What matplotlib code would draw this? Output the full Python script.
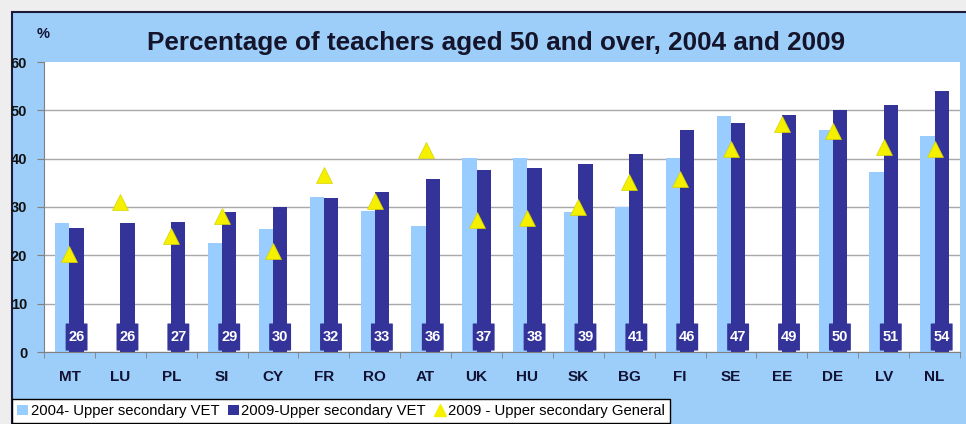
import matplotlib.pyplot as plt
import numpy as np
from matplotlib.patches import Rectangle, FancyBboxPatch
from matplotlib.lines import Line2D

countries = ['MT', 'LU', 'PL', 'SI', 'CY', 'FR', 'RO', 'AT', 'UK',
             'HU', 'SK', 'BG', 'FI', 'SE', 'EE', 'DE', 'LV', 'NL']
vet_2004 = [26.6, np.nan, np.nan, 22.6, 25.5, 32.0, 29.2, 26.1, 40.2,
            40.2, 29.0, 30.0, 40.2, 48.8, np.nan, 46.0, 37.2, 44.6]
vet_2009 = [25.6, 26.6, 26.8, 29.0, 30.1, 31.8, 33.2, 35.8, 37.7,
            38.1, 38.9, 41.0, 46.0, 47.3, 49.0, 50.0, 51.1, 54.0]
general_2009 = [20.3, 31.0, 24.0, 28.1, 21.0, 36.6, 31.3, 41.7, 27.4,
                27.8, 29.9, 35.1, 35.8, 42.0, 47.1, 45.7, 42.4, 42.0]
labels_2009 = [26, 26, 27, 29, 30, 32, 33, 36, 37, 38, 39, 41, 46, 47, 49, 50, 51, 54]

light = '#99ccff'
navy = '#333399'
yellow = '#f4f000'
W, H = 966, 424

plt.rcParams['font.family'] = ['Liberation Sans', 'DejaVu Sans']

fig = plt.figure(figsize=(W / 100, H / 100), dpi=100, facecolor='#eeeeee')

# light blue chart panel, kept behind the axes
panel = Rectangle((12 / W, -0.1), 1.0, 1.1 - 12 / H, transform=fig.transFigure,
                  facecolor='#9dcdf9', edgecolor='#1c1c3a', lw=1.5, zorder=-10)
fig.patches.append(panel)

ax = fig.add_axes([44 / W, 1 - 352 / H, (960 - 44) / W, (352 - 62) / H])
ax.set_facecolor('white')

x = np.arange(len(countries))
w = 0.28
ax.bar(x - w / 2, vet_2004, w, color=light, zorder=2)
ax.bar(x + w / 2, vet_2009, w, color=navy, zorder=2)
ax.plot(x, general_2009, linestyle='none', marker='^', ms=11.5, color=yellow,
        markeredgecolor='#d8d400', markeredgewidth=0.5, zorder=4)

# value boxes at the bottom of the 2009 bars
for xi, lab in zip(x, labels_2009):
    box = FancyBboxPatch((xi + w / 2 - 0.215, 0.3), 0.43, 5.6,
                         boxstyle='round,pad=0,rounding_size=0.04',
                         facecolor=navy, edgecolor='none', zorder=3)
    ax.add_patch(box)
    ax.text(xi + w / 2, 3.1, str(lab), ha='center', va='center', color='white',
            fontsize=10.5, fontweight='bold', zorder=5)

ax.set_xlim(-0.5, len(countries) - 0.5)
ax.set_ylim(0, 60)
ax.set_yticks(range(0, 61, 10))
ax.yaxis.grid(True, color='#a8a8a8', lw=1)
ax.get_ygridlines()[-1].set_visible(False)
ax.set_axisbelow(True)

ax.set_xticks(x)
ax.set_xticklabels(countries, fontweight='bold', fontsize=11, color='#111133')
ax.set_xticks(np.arange(-0.5, len(countries), 1), minor=True)
ax.tick_params(axis='x', which='major', length=0, pad=13)
ax.tick_params(axis='x', which='minor', length=4, color='#808080')
ax.tick_params(axis='y', length=5, color='#808080', pad=7, labelsize=10.5)
for t in ax.get_yticklabels():
    t.set_fontweight('bold')
    t.set_color('#111111')

for s in ['top', 'right']:
    ax.spines[s].set_visible(False)
ax.spines['left'].set_color('#808080')
ax.spines['bottom'].set_color('#808080')

fig.text(43 / W, 1 - 34 / H, '%', ha='center', va='center', fontsize=10.5,
         fontweight='bold', color='#111133')
fig.text(496 / W, 1 - 43 / H, 'Percentage of teachers aged 50 and over, 2004 and 2009',
         ha='center', va='center', fontsize=18.8, fontweight='bold', color='#14142a')

handles = [
    Rectangle((0, 0), 1, 1, facecolor=light, edgecolor='none'),
    Rectangle((0, 0), 1, 1, facecolor=navy, edgecolor='none'),
    Line2D([], [], linestyle='none', marker='^', ms=9, color=yellow),
]
names = ['2004- Upper secondary VET', '2009-Upper secondary VET',
         '2009 - Upper secondary General']
leg = fig.legend(handles, names, ncol=3, loc='upper left',
                 bbox_to_anchor=(12 / W, 1 - 399 / H), frameon=True,
                 fancybox=False, edgecolor='black', framealpha=1,
                 fontsize=10.7, handlelength=0.7, handleheight=0.7,
                 handletextpad=0.2, columnspacing=0.6, borderpad=0.35,
                 borderaxespad=0)
leg.get_frame().set_linewidth(1)

fig.savefig('out.png', dpi=100, facecolor=fig.get_facecolor())
